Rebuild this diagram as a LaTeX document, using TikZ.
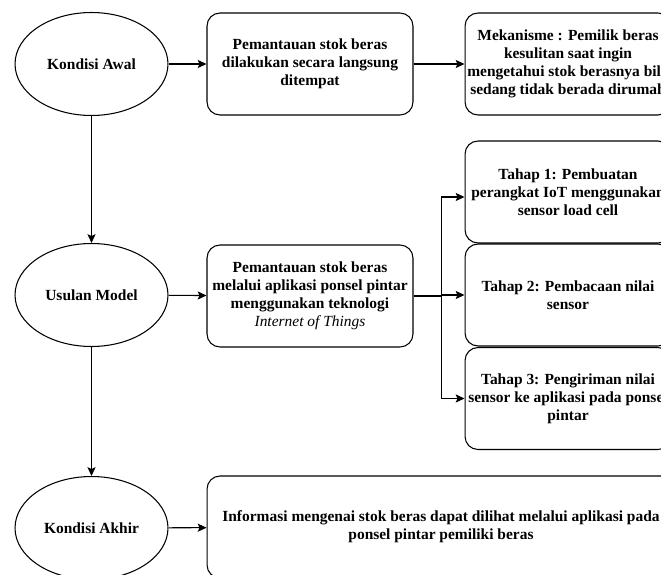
\documentclass[tikz,border=0pt]{standalone}
\usepackage{fontspec}
\setmainfont{Liberation Serif}
\usepackage{tikz}
\usetikzlibrary{arrows.meta,positioning,calc,shapes.geometric}

\begin{document}
\begin{tikzpicture}[x=0.02cm, y=-0.02cm,
    line width=0.6pt,
    kondisi/.style={draw, ellipse, minimum width=3.06cm, minimum height=2.06cm,
      inner sep=0pt, font=\fontsize{8.8}{10.3}\selectfont\bfseries},
    kotak/.style={draw, rounded corners=0.26cm, minimum width=4.12cm, minimum height=2.04cm,
      inner sep=1pt, align=center, font=\fontsize{8.8}{10.3}\selectfont\bfseries},
    panah/.style={-{Stealth[length=5pt, width=4.6pt, inset=1pt]}}]
  % page frame, boxes run past the right edge
  \useasboundingbox (0,0) rectangle (661,574);
  \clip (0,0) rectangle (661,574);
  % the three conditions
  \node[kondisi] (awal) at (91.5,64) {Kondisi Awal};
  \node[kondisi] (usulan) at (91.5,295) {Usulan Model};
  \node[kondisi] (akhir) at (91.5,528) {Kondisi Akhir};
  % monitoring boxes
  \node[kotak] (pantau1) at (310,64) {Pemantauan stok beras\\dilakukan secara langsung\\ditempat};
  \node[kotak] (pantau2) at (310,296) {Pemantauan stok beras\\melalui aplikasi ponsel pintar\\menggunakan teknologi\\{\normalfont\itshape Internet of Things}};
  \node[kotak] (mekanisme) at (568,64) {Mekanisme : Pemilik beras\\kesulitan saat ingin\\mengetahui stok berasnya bila\\sedang tidak berada dirumah};
  % stages of the proposed model
  \foreach \name/\ypos/\isi in {tahap1/192/{Tahap 1: Pembuatan\\perangkat IoT menggunakan\\sensor load cell},
      tahap2/295/{Tahap 2: Pembacaan nilai\\sensor},
      tahap3/398.5/{Tahap 3: Pengiriman nilai\\sensor ke aplikasi pada ponsel\\pintar}}{
    \node[kotak] (\name) at (568,\ypos) {\isi};
  }
  \node[kotak, minimum width=9.36cm] (info) at (441,527) {Informasi mengenai stok beras dapat dilihat melalui aplikasi pada\\ponsel pintar pemiliki beras};
  % connectors
  \draw[panah] (awal) -- (pantau1);
  \draw[panah] (pantau1) -- (mekanisme);
  \draw[panah] (awal) -- (usulan);
  \draw[panah] (usulan) -- (pantau2);
  \draw[panah] (usulan) -- (akhir);
  \draw[panah] (akhir) -- (info);
  \coordinate (cabang) at ($(pantau2.east)+(28,0)$);
  \draw (pantau2) -- (cabang);
  \draw[panah] (cabang) |- ([yshift=-0.1cm]tahap1.west);
  \draw[panah] (cabang) |- (tahap2.west);
  \draw[panah] (cabang) |- (tahap3.west);
\end{tikzpicture}
\end{document}
